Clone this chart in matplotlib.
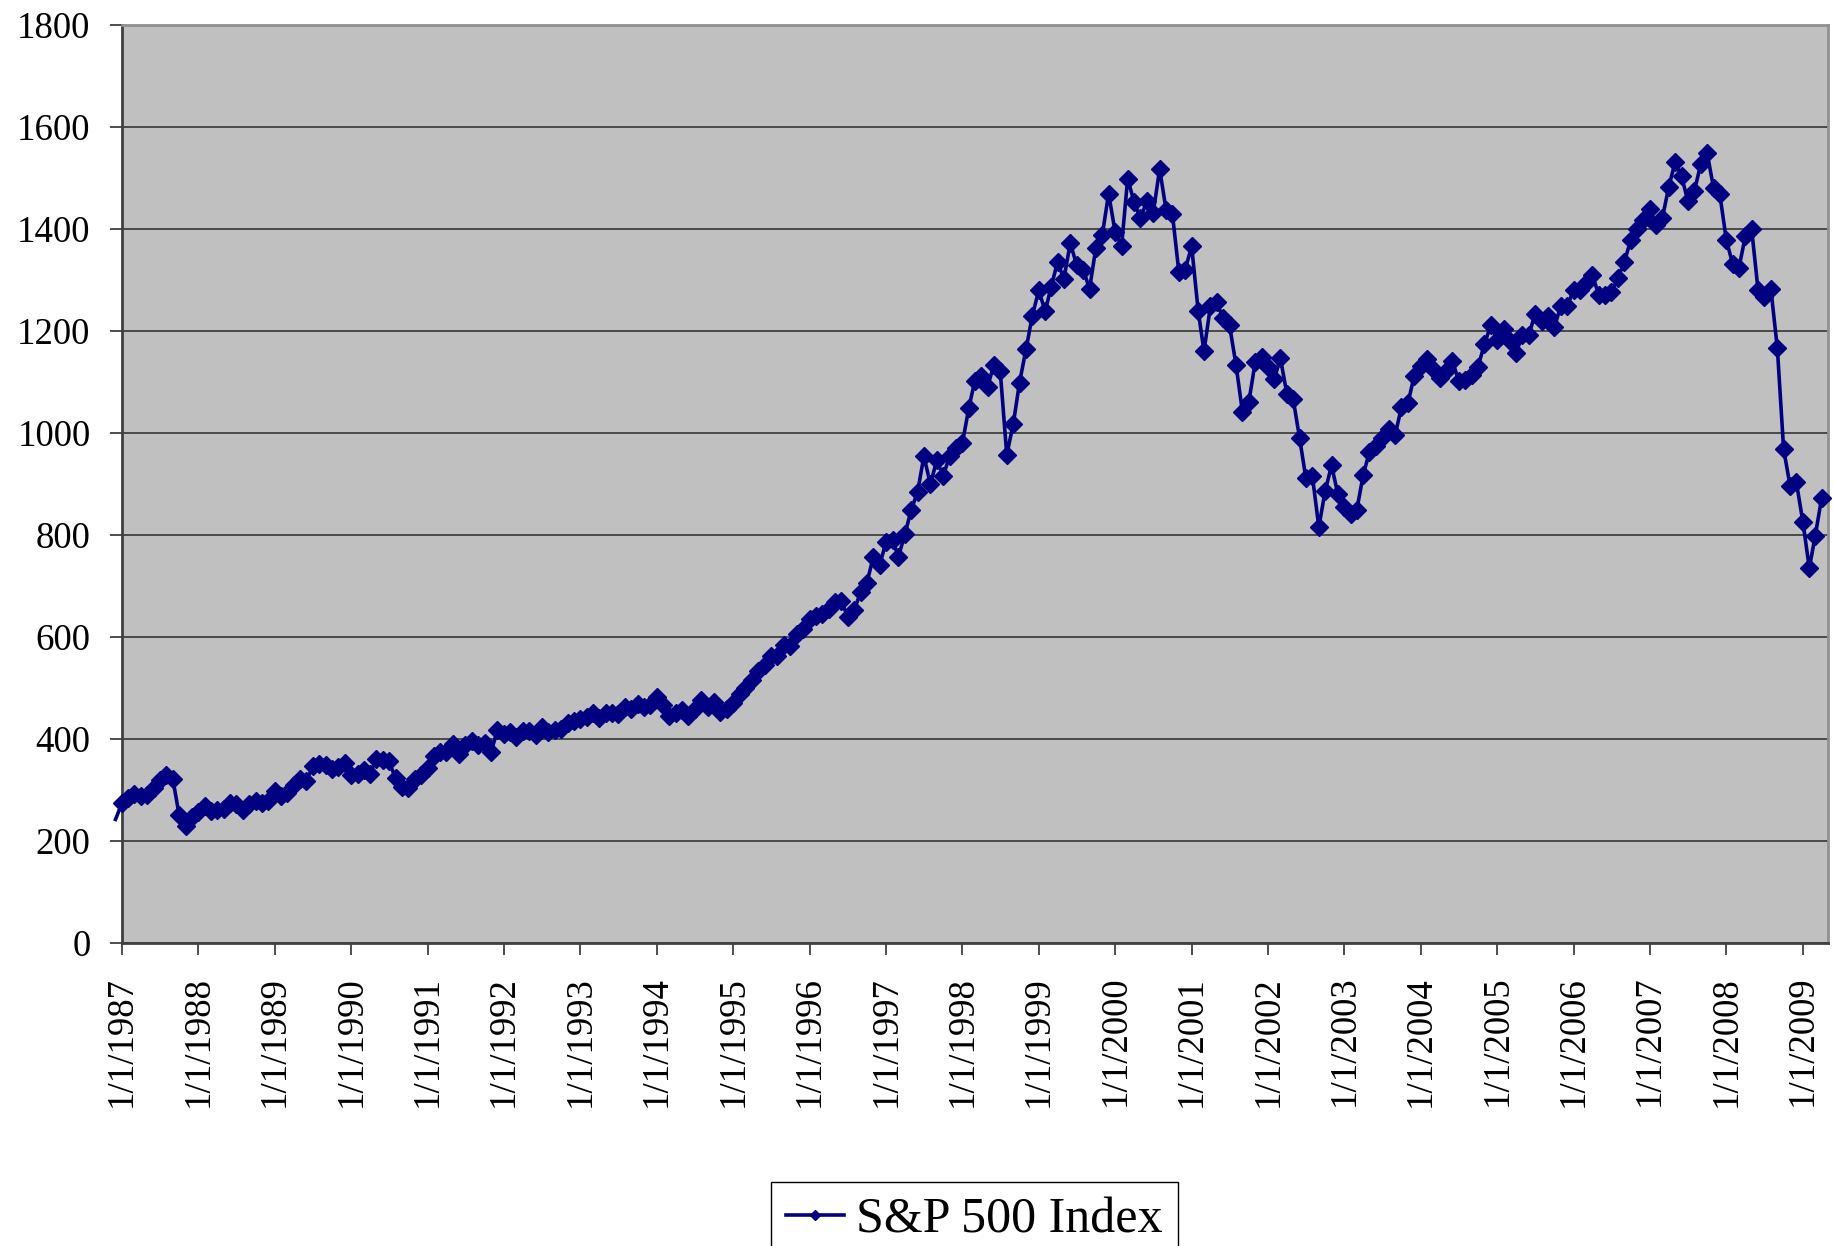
import pandas as pd
import matplotlib.pyplot as plt
import matplotlib.dates as mdates
from matplotlib.ticker import FuncFormatter, MultipleLocator

# S&P 500 month-end closes, Dec 1986 .. Apr 2009
sp_1986 = [242.17]
sp_1987 = [274.08, 284.20, 291.70, 288.36, 290.10, 304.00, 318.66, 329.80, 321.83, 251.79, 230.30, 247.08]
sp_1988 = [257.07, 267.82, 258.89, 261.33, 262.16, 273.50, 272.02, 261.52, 271.91, 278.97, 273.70, 277.72]
sp_1989 = [297.47, 288.86, 294.87, 309.64, 320.52, 317.98, 346.08, 351.45, 349.15, 340.36, 345.99, 353.40]
sp_1990 = [329.08, 331.89, 339.94, 330.80, 361.23, 358.02, 356.15, 322.56, 306.05, 304.00, 322.22, 330.22]
sp_1991 = [343.93, 367.07, 375.22, 375.35, 389.83, 371.16, 387.81, 395.43, 387.86, 392.46, 375.22, 417.09]
sp_1992 = [408.79, 412.70, 403.69, 414.95, 415.35, 408.14, 424.21, 414.03, 417.80, 418.68, 431.35, 435.71]
sp_1993 = [438.78, 443.38, 451.67, 440.19, 450.19, 450.53, 448.13, 463.56, 458.93, 467.83, 461.79, 466.45]
sp_1994 = [481.61, 467.14, 445.77, 450.91, 456.50, 444.27, 458.26, 475.49, 462.69, 472.35, 453.69, 459.27]
sp_1995 = [470.42, 487.39, 500.71, 514.71, 533.40, 544.75, 562.06, 561.88, 584.41, 581.50, 605.37, 615.93]
sp_1996 = [636.02, 640.43, 645.50, 654.17, 669.12, 670.63, 639.95, 651.99, 687.31, 705.27, 757.02, 740.74]
sp_1997 = [786.16, 790.82, 757.12, 801.34, 848.28, 885.14, 954.29, 899.47, 947.28, 914.62, 955.40, 970.43]
sp_1998 = [980.28, 1049.34, 1101.75, 1111.75, 1090.82, 1133.84, 1120.67, 957.28, 1017.01, 1098.67, 1163.63, 1229.23]
sp_1999 = [1279.64, 1238.33, 1286.37, 1335.18, 1301.84, 1372.71, 1328.72, 1320.41, 1282.71, 1362.93, 1388.91, 1469.25]
sp_2000 = [1394.46, 1366.42, 1498.58, 1452.43, 1420.60, 1454.60, 1430.83, 1517.68, 1436.51, 1429.40, 1314.95, 1320.28]
sp_2001 = [1366.01, 1239.94, 1160.33, 1249.46, 1255.82, 1224.42, 1211.23, 1133.58, 1040.94, 1059.78, 1139.45, 1148.08]
sp_2002 = [1130.20, 1106.73, 1147.39, 1076.92, 1067.14, 989.82, 911.62, 916.07, 815.28, 885.76, 936.31, 879.82]
sp_2003 = [855.70, 841.15, 848.18, 916.92, 963.59, 974.50, 990.31, 1008.01, 995.97, 1050.71, 1058.20, 1111.92]
sp_2004 = [1131.13, 1144.94, 1126.21, 1107.30, 1120.68, 1140.84, 1101.72, 1104.24, 1114.58, 1130.20, 1173.82, 1211.92]
sp_2005 = [1181.27, 1203.60, 1180.59, 1156.85, 1191.50, 1191.33, 1234.18, 1220.33, 1228.81, 1207.01, 1249.48, 1248.29]
sp_2006 = [1280.08, 1280.66, 1294.87, 1310.61, 1270.09, 1270.20, 1276.66, 1303.82, 1335.85, 1377.94, 1400.63, 1418.30]
sp_2007 = [1438.24, 1406.82, 1420.86, 1482.37, 1530.62, 1503.35, 1455.27, 1473.99, 1526.75, 1549.38, 1481.14, 1468.36]
sp_2008 = [1378.55, 1330.63, 1322.70, 1385.59, 1400.38, 1280.00, 1267.38, 1282.83, 1166.36, 968.75, 896.24, 903.25]
sp_2009 = [825.88, 735.09, 797.87, 872.81]

values = (sp_1986 + sp_1987 + sp_1988 + sp_1989 + sp_1990 + sp_1991 + sp_1992 + sp_1993
          + sp_1994 + sp_1995 + sp_1996 + sp_1997 + sp_1998 + sp_1999 + sp_2000 + sp_2001
          + sp_2002 + sp_2003 + sp_2004 + sp_2005 + sp_2006 + sp_2007 + sp_2008 + sp_2009)
dates = pd.date_range('1986-12-01', periods=len(values), freq='MS')

plt.rcParams['font.family'] = ['Liberation Serif', 'DejaVu Serif']

fig = plt.figure(figsize=(18.34, 12.46), dpi=100)
ax = fig.add_axes([0.0665, 0.2432, 0.9302, 0.7368])
ax.set_facecolor('#c0c0c0')

# line starts at Dec 1986 (outside the axis), markers from Jan 1987
ax.plot(dates, values, color='#000080', lw=2.6, marker='D', ms=9.5,
        markevery=slice(1, None), clip_on=False, label='S&P 500 Index', zorder=3)

ax.set_xlim(pd.Timestamp('1987-01-01'), pd.Timestamp('2009-05-01'))
ax.set_ylim(0, 1800)
ax.yaxis.set_major_locator(MultipleLocator(200))
ax.xaxis.set_major_locator(mdates.YearLocator())


def date_label(x, pos):
    d = mdates.num2date(x)
    return '%d/%d/%d' % (d.month, d.day, d.year)


ax.xaxis.set_major_formatter(FuncFormatter(date_label))
plt.setp(ax.get_xticklabels(), rotation=90, ha='center', va='top')

ax.yaxis.grid(True, color='#404040', lw=1.3)
ax.set_axisbelow(True)

ax.tick_params(axis='both', direction='out', length=8.6, width=1.3, color='#404040', labelsize=26.5)
ax.tick_params(axis='y', pad=14)
ax.tick_params(axis='x', pad=15)

for s in ['left', 'bottom']:
    ax.spines[s].set_color('#404040')
    ax.spines[s].set_linewidth(2)
for s in ['top', 'right']:
    ax.spines[s].set_color('#909090')
    ax.spines[s].set_linewidth(2)

leg = ax.legend(loc='upper center', bbox_to_anchor=(0.5314, 0.0514), bbox_transform=fig.transFigure,
                fontsize=36, frameon=True, fancybox=False, edgecolor='black', framealpha=1,
                handlelength=1.15, handletextpad=0.25, borderpad=0.3, borderaxespad=0,
                markerscale=0.55)
leg.get_frame().set_linewidth(1.0)

fig.savefig('out.png', dpi=100)
